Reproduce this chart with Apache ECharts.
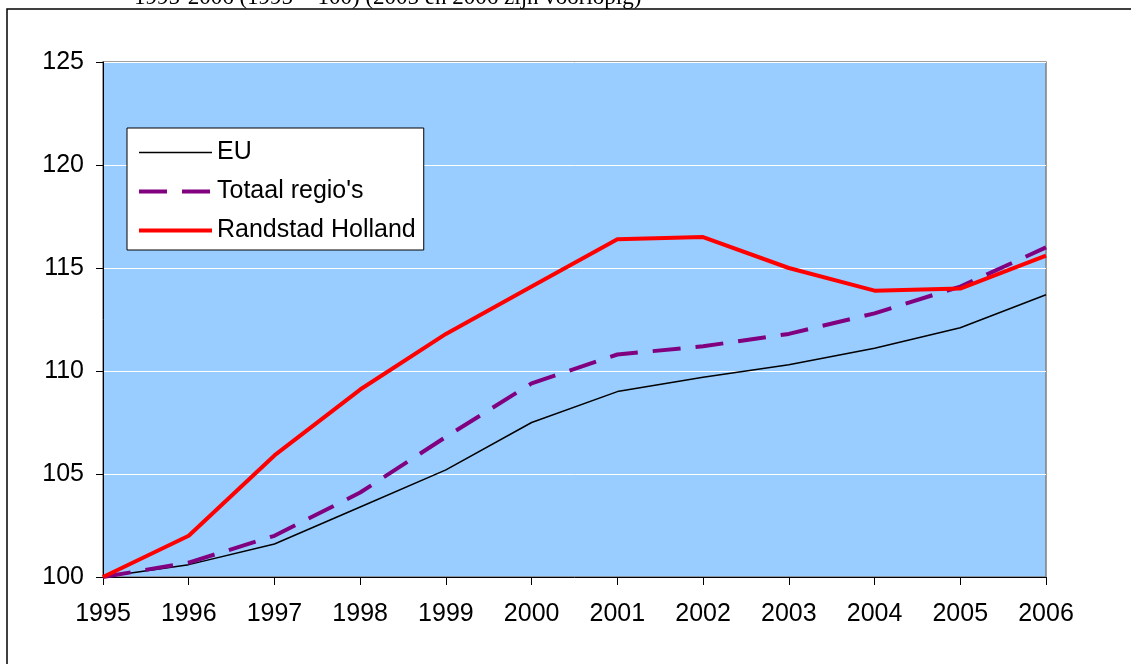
<!DOCTYPE html>
<html><head><meta charset="utf-8">
<script src="https://cdn.jsdelivr.net/npm/echarts@6/dist/echarts.min.js"></script>
<style>html,body{margin:0;padding:0;background:#fff}#c{width:1131px;height:664px}</style>
</head><body><div id="c"></div>
<script>
const years = ['1995','1996','1997','1998','1999','2000','2001','2002','2003','2004','2005','2006'];
const eu = [100, 100.6, 101.6, 103.4, 105.2, 107.5, 109.0, 109.7, 110.3, 111.1, 112.1, 113.7];
const totaal = [100, 100.7, 102.0, 104.1, 106.8, 109.4, 110.8, 111.2, 111.8, 112.8, 114.1, 116.0];
const randstad = [100, 102.0, 105.9, 109.1, 111.8, 114.1, 116.4, 116.5, 115.0, 113.9, 114.0, 115.6];
const titleText = '1995-2006 (1995 = 100) (2005 en 2006 zijn voorlopig)';

const chart = echarts.init(document.getElementById('c'), null, {renderer: 'canvas'});
const font = 'Arial, "Liberation Sans", sans-serif';
chart.setOption({
  animation: false,
  backgroundColor: '#fff',
  graphic: [
    {type: 'rect', z: -10, shape: {x: 7, y: 9, width: 1200, height: 800},
     style: {fill: '#fff', stroke: '#000', lineWidth: 1.5}},
    {type: 'text', left: 134, top: -14, z: 10,
     style: {text: titleText, font: '23px "Liberation Serif", "Times New Roman", serif', fill: '#000'}}
  ],
  grid: {left: 103, top: 62, right: 85, bottom: 87, show: true,
         backgroundColor: '#99CCFF', borderColor: '#808080', borderWidth: 1.5},
  legend: {
    orient: 'vertical', left: 127, top: 128,
    backgroundColor: '#fff', borderColor: '#000', borderWidth: 1,
    padding: [12, 8, 7, 10], itemGap: 14, itemWidth: 73, itemHeight: 14,
    itemStyle: {opacity: 0},
    textStyle: {fontFamily: font, fontSize: 25, color: '#000', lineHeight: 25},
    data: [
      {name: 'EU', lineStyle: {color: '#000', width: 1.5}},
      {name: "Totaal regio's", lineStyle: {color: '#800080', width: 4, type: [28, 15]}},
      {name: 'Randstad Holland', lineStyle: {color: '#FF0000', width: 4}}
    ]
  },
  xAxis: {
    type: 'category', data: years, boundaryGap: false,
    axisLine: {lineStyle: {color: '#000', width: 1}},
    axisTick: {length: 8, lineStyle: {color: '#000'}, alignWithLabel: true},
    axisLabel: {fontFamily: font, fontSize: 25, color: '#000', margin: 25},
    splitLine: {show: false}
  },
  yAxis: {
    type: 'value', min: 100, max: 125, interval: 5,
    axisLine: {show: true, lineStyle: {color: '#000', width: 1}},
    axisTick: {show: true, length: 7, lineStyle: {color: '#000'}},
    axisLabel: {fontFamily: font, fontSize: 25, color: '#000', margin: 19},
    splitLine: {lineStyle: {color: '#ffffff', width: 1}}
  },
  series: [
    {name: 'EU', type: 'line', data: eu, symbol: 'none', z: 3,
     lineStyle: {color: '#000', width: 1.5}, itemStyle: {color: '#000'}},
    {name: "Totaal regio's", type: 'line', data: totaal, symbol: 'none', z: 4,
     lineStyle: {color: '#800080', width: 4, type: [28, 15]}, itemStyle: {color: '#800080'}},
    {name: 'Randstad Holland', type: 'line', data: randstad, symbol: 'none', z: 5,
     lineStyle: {color: '#FF0000', width: 4}, itemStyle: {color: '#FF0000'}}
  ]
});
</script></body></html>
